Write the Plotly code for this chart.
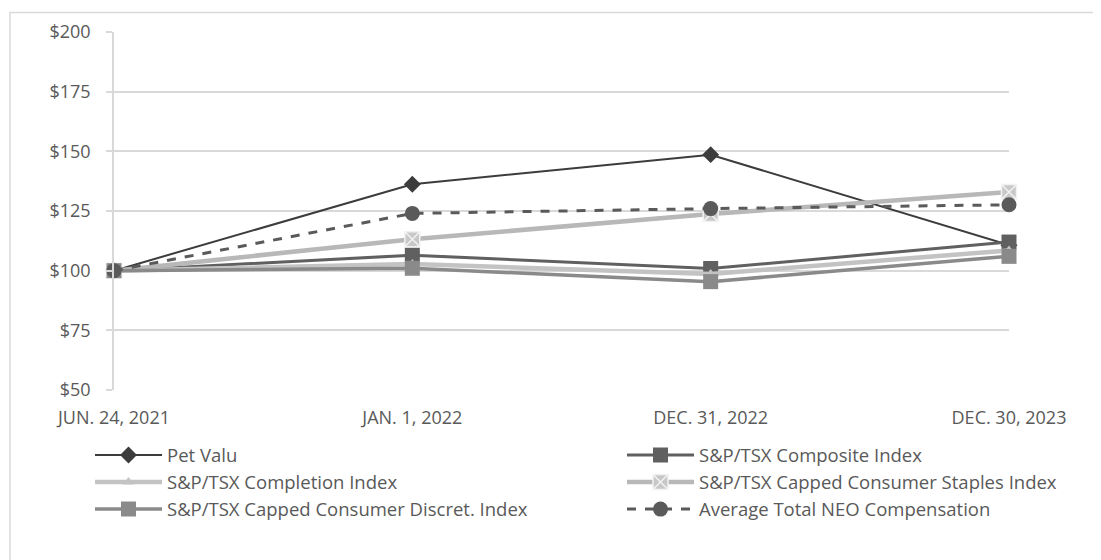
import plotly.graph_objects as go

dates = ["JUN. 24, 2021", "JAN. 1, 2022", "DEC. 31, 2022", "DEC. 30, 2023"]

pet_valu = [100, 136.2, 148.6, 110.7]
composite = [100, 106.5, 100.9, 112.0]
completion = [100, 102.8, 98.6, 108.5]
staples = [100, 113.2, 123.7, 133.0]
discret = [100, 101.0, 95.4, 106.0]
neo_comp = [100, 124.0, 126.0, 127.6]

y_ticks = [50, 75, 100, 125, 150, 175, 200]
y_tick_labels = ["$" + str(v) for v in y_ticks]

FONT = "Open Sans"
FS = 18
LFS = 18.5
TXT = "#595959"
GRID = "#d9d9d9"

series = [
    ("Pet Valu", pet_valu, "#3c3c3c", 2, "solid", "diamond", 13, "#3c3c3c", None, "legend"),
    ("S&P/TSX Composite Index", composite, "#606060", 3, "solid", "square", 15, "#606060", None, "legend2"),
    ("S&P/TSX Completion Index", completion, "#c3c3c3", 4.5, "solid", "triangle-up", 10, "#c3c3c3", None, "legend"),
    ("S&P/TSX Capped Consumer Staples Index", staples, "#b8b8b8", 4.5, "solid", "square-x", 15, "#c8c8c8", "#f2f2f2", "legend2"),
    ("S&P/TSX Capped Consumer Discret. Index", discret, "#8a8a8a", 3.5, "solid", "square", 15, "#8a8a8a", None, "legend"),
    ("Average Total NEO Compensation", neo_comp, "#5a5a5a", 3, "dash", "circle", 15, "#5a5a5a", None, "legend2"),
]

fig = go.Figure()
for name, vals, col, w, dash, sym, size, mcol, lcol, leg in series:
    marker = dict(symbol=sym, size=size, color=mcol)
    if lcol:
        marker["line"] = dict(color=lcol, width=1.5)
    else:
        marker["line"] = dict(width=0)
    fig.add_trace(go.Scatter(
        x=dates, y=vals, name=name, mode="lines+markers",
        line=dict(color=col, width=w, dash=dash),
        marker=marker, cliponaxis=False, legend=leg,
    ))

OFF = 8  # page body margin
W, H = 1101, 560
L = 114 - OFF
R = W - (1009 - OFF)
T = 32.3 - OFF
B = H - (390.5 - OFF)
pw = W - L - R
ph = H - T - B

def px_x(p):
    return (p - OFF - L) / pw

def px_y(q):
    return (H - B - (q - OFF)) / ph

fig.add_shape(type="rect", xref="paper", yref="paper",
              x0=px_x(10), x1=px_x(1120), y0=px_y(580), y1=px_y(12.7),
              line=dict(color=GRID, width=1.5), fillcolor="rgba(0,0,0,0)", layer="below")

leg_common = dict(
    orientation="v", xanchor="left", yanchor="top", itemwidth=67,
    font=dict(family=FONT, size=LFS, color=TXT),
    bgcolor="rgba(0,0,0,0)", tracegroupgap=0,
)

fig.update_layout(
    width=W, height=H,
    margin=dict(l=L, r=R, t=T, b=B, autoexpand=False),
    paper_bgcolor="white", plot_bgcolor="white",
    font=dict(family=FONT, size=FS, color=TXT),
    showlegend=True,
    legend=dict(x=px_x(90), y=px_y(437), **leg_common),
    legend2=dict(x=px_x(622), y=px_y(437), **leg_common),
    xaxis=dict(
        type="category", range=[0, 3], showgrid=False, zeroline=False,
        showline=False, ticks="", tickfont=dict(family=FONT, size=FS, color=TXT),
        ticklabelstandoff=15,
    ),
    yaxis=dict(
        range=[50, 200], tickvals=y_ticks, ticktext=y_tick_labels,
        showgrid=True, gridcolor=GRID, gridwidth=1.5, zeroline=False,
        showline=True, linecolor=GRID, linewidth=1.5,
        ticks="outside", ticklen=6, tickcolor=GRID, tickwidth=1.5,
        tickfont=dict(family=FONT, size=FS, color=TXT), ticklabelstandoff=12,
    ),
)

fig.write_html("out.html")
